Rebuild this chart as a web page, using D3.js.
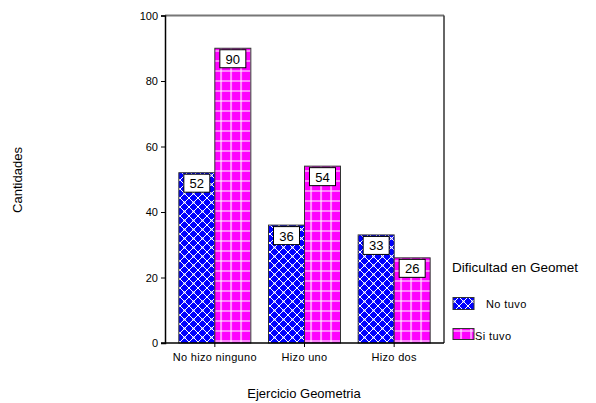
<!DOCTYPE html>
<html><head><meta charset="utf-8">
<script src="https://cdn.jsdelivr.net/npm/d3@7"></script>
<style>body{margin:0;background:#fff}svg{display:block;font-family:"Liberation Sans",Arial,sans-serif}</style>
</head><body><svg id="c" width="596" height="403"></svg>
<script>
const categories = ["No hizo ninguno", "Hizo uno", "Hizo dos"];
const series = ["No tuvo", "Si tuvo"];
const noTuvo = [52, 36, 33];
const siTuvo = [90, 54, 26];
const yTicks = [0, 20, 40, 60, 80, 100];
const values = [noTuvo, siTuvo];

const svg = d3.select("#c");
const defs = svg.append("defs");
// blue diamond lattice
const pb = defs.append("pattern").attr("id","pBlue").attr("patternUnits","userSpaceOnUse").attr("width",9).attr("height",9);
pb.append("rect").attr("width",9).attr("height",9).attr("fill","#0000ff");
pb.append("path").attr("d","M0,0L9,9M9,0L0,9").attr("stroke","#fff").attr("stroke-width",1).attr("fill","none");
pb.append("path").attr("d","M-1,-1L1,1M8,8L10,10M8,-1L10,1M-1,8L1,10").attr("stroke","#fff").attr("stroke-width",1);
pb.append("circle").attr("cx",4.5).attr("cy",4.5).attr("r",1.1).attr("fill","#fff");
// pink grid
const pp = defs.append("pattern").attr("id","pPink").attr("patternUnits","userSpaceOnUse").attr("width",10).attr("height",10).attr("x",0.5).attr("y",0.5);
pp.append("rect").attr("width",10).attr("height",10).attr("fill","#ff00ff");
pp.append("path").attr("d","M0,0.5H10M0.5,0V10").attr("stroke","#fff").attr("stroke-width",1.2);
const fills = ["url(#pBlue)", "url(#pPink)"];

const y = d3.scaleLinear().domain([0,100]).range([343,15.5]);
const x0 = d3.scaleBand().domain(categories).range([170,439]);
const x1 = d3.scaleBand().domain(series).range([0,72]);

// frame top/right
svg.append("line").attr("x1",165).attr("x2",444).attr("y1",y(100)).attr("y2",y(100)).attr("stroke","#777").attr("stroke-width",2);
svg.append("line").attr("x1",444).attr("x2",444).attr("y1",y(100)).attr("y2",y(0)).attr("stroke","#333").attr("stroke-width",1.5);

// bars
categories.forEach((c,i)=>{
  const gx = x0(c) + x0.bandwidth()/2 - 36;
  series.forEach((s,j)=>{
    const v = values[j][i];
    const bx = gx + x1(s);
    svg.append("rect").attr("x",bx).attr("y",y(v)).attr("width",x1.bandwidth()).attr("height",y(0)-y(v))
      .attr("fill",fills[j]).attr("stroke","#333").attr("stroke-width",1);
    const cx = bx + x1.bandwidth()/2;
    svg.append("rect").attr("x",cx-13).attr("y",y(v)+1.5).attr("width",26).attr("height",18)
      .attr("fill","#fff").attr("stroke","#000").attr("stroke-width",1);
    svg.append("text").attr("x",cx).attr("y",y(v)+15.5).attr("text-anchor","middle")
      .attr("font-size",13).attr("fill","#000").text(v);
  });
});

// y axis
const ya = svg.append("g").attr("transform","translate(165,0)")
  .call(d3.axisLeft(y).tickValues(yTicks).tickSize(4).tickPadding(3));
ya.select(".domain").attr("stroke","#000").attr("stroke-width",1.5);
ya.selectAll("text").attr("font-size",11).attr("fill","#000").attr("font-family","Liberation Sans, Arial, sans-serif");

// x axis
const xa = svg.append("g").attr("transform","translate(0,343)")
  .call(d3.axisBottom(x0).tickSize(0).tickPadding(10));
xa.select(".domain").attr("stroke","#000").attr("stroke-width",1.5).attr("d","M161,0H444");
xa.selectAll("text").attr("font-size",11).attr("fill","#000").attr("font-family","Liberation Sans, Arial, sans-serif").attr("letter-spacing","0.3px");
categories.forEach(c=>{
  const cx = x0(c)+x0.bandwidth()/2;
  svg.append("line").attr("x1",cx).attr("x2",cx).attr("y1",343).attr("y2",347).attr("stroke","#000");
});

// axis titles
svg.append("text").attr("transform","translate(22,180) rotate(-90)").attr("text-anchor","middle").attr("font-size",13).text("Cantidades");
svg.append("text").attr("x",304).attr("y",398).attr("text-anchor","middle").attr("font-size",13).text("Ejercicio Geometria");

// legend
svg.append("text").attr("x",452).attr("y",272).attr("font-size",13.5).text("Dificultad en Geomet");
svg.append("rect").attr("x",453).attr("y",297.5).attr("width",21).attr("height",12).attr("fill",fills[0]).attr("stroke","#333");
svg.append("text").attr("x",486).attr("y",308).attr("font-size",11).attr("letter-spacing","0.4px").text(series[0]);
svg.append("rect").attr("x",453).attr("y",328.5).attr("width",21).attr("height",11).attr("fill",fills[1]).attr("stroke","#333");
svg.append("text").attr("x",475).attr("y",340).attr("font-size",11).attr("letter-spacing","0.4px").text(series[1]);
</script></body></html>
